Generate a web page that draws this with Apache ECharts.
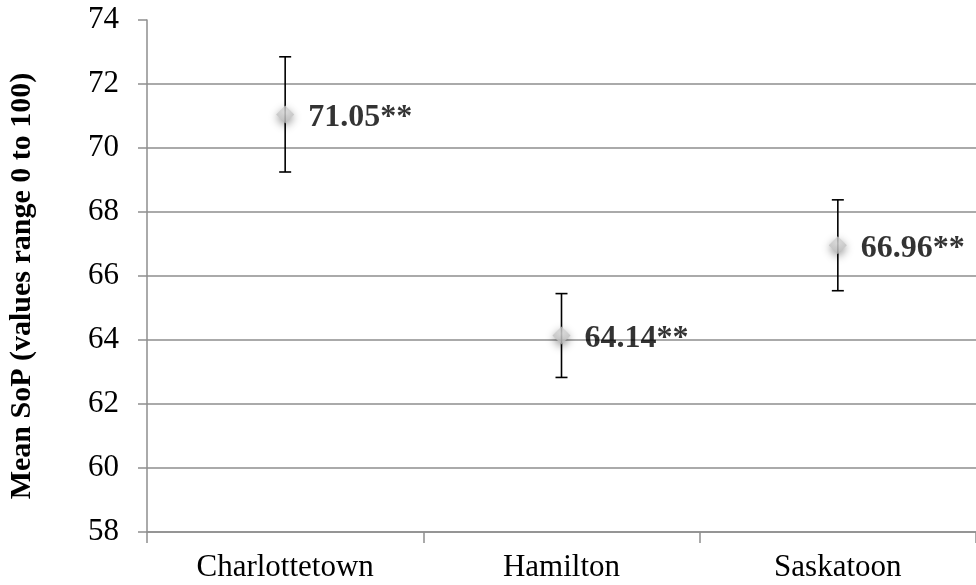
<!DOCTYPE html>
<html>
<head>
<meta charset="utf-8">
<style>
  html, body { margin: 0; padding: 0; background: #fff; }
  #chart { width: 976px; height: 585px; }
</style>
<script src="https://cdn.jsdelivr.net/npm/echarts@6/dist/echarts.min.js"></script>
</head>
<body>
<div id="chart"></div>
<script>
// City means of SoP with their confidence bounds
var categories = ['Charlottetown', 'Hamilton', 'Saskatoon'];
var means = [71.05, 64.14, 66.96];
var lowerBounds = [69.25, 62.83, 65.54];
var upperBounds = [72.85, 65.45, 68.38];
var significance = ['**', '**', '**'];
var yTicks = [58, 60, 62, 64, 66, 68, 70, 72, 74];

var serif = '"Liberation Serif", "Times New Roman", Times, serif';
var gridGray = '#8e8e8e';

var errorData = categories.map(function (c, i) {
  return [i, lowerBounds[i], upperBounds[i]];
});

var chart = echarts.init(document.getElementById('chart'));
chart.setOption({
  animation: false,
  backgroundColor: '#ffffff',
  grid: { left: 147, top: 20, right: -11, bottom: 53 },
  xAxis: {
    type: 'category',
    data: categories,
    boundaryGap: true,
    axisLine: { lineStyle: { color: gridGray, width: 1.5 } },
    axisTick: { show: true, length: 11, lineStyle: { color: gridGray, width: 1.5 } },
    axisLabel: { color: '#000', fontFamily: serif, fontSize: 31, margin: 20 }
  },
  yAxis: {
    type: 'value',
    min: yTicks[0],
    max: yTicks[yTicks.length - 1],
    interval: 2,
    axisLine: { show: true, lineStyle: { color: gridGray, width: 1.5 } },
    axisTick: { show: true, length: 9, lineStyle: { color: gridGray, width: 1.5 } },
    axisLabel: { color: '#000', fontFamily: serif, fontSize: 31, margin: 28 },
    splitLine: {
      show: true,
      lineStyle: {
        width: 1.5,
        color: [gridGray, gridGray, gridGray, gridGray, gridGray, gridGray, gridGray, gridGray, 'rgba(0,0,0,0)']
      }
    }
  },
  graphic: [{
    type: 'text',
    x: 22,
    y: 286,
    rotation: Math.PI / 2,
    style: {
      text: 'Mean SoP (values range 0 to 100)',
      fontFamily: serif,
      fontWeight: 'bold',
      fontSize: 30,
      fill: '#000',
      align: 'center',
      verticalAlign: 'middle'
    }
  }],
  series: [
    {
      type: 'custom',
      name: 'range',
      data: errorData,
      z: 3,
      renderItem: function (params, api) {
        var x = api.value(0);
        var lo = api.coord([x, api.value(1)]);
        var hi = api.coord([x, api.value(2)]);
        var cap = 6;
        var st = { stroke: '#000', lineWidth: 1.6 };
        return {
          type: 'group',
          children: [
            { type: 'line', shape: { x1: lo[0], y1: lo[1], x2: hi[0], y2: hi[1] }, style: st },
            { type: 'line', shape: { x1: hi[0] - cap, y1: hi[1], x2: hi[0] + cap, y2: hi[1] }, style: st },
            { type: 'line', shape: { x1: lo[0] - cap, y1: lo[1], x2: lo[0] + cap, y2: lo[1] }, style: st }
          ]
        };
      }
    },
    {
      type: 'scatter',
      name: 'Mean SoP',
      data: means,
      z: 5,
      symbol: 'diamond',
      symbolSize: 18,
      itemStyle: {
        color: {
          type: 'radial', x: 0.5, y: 0.4, r: 0.7,
          colorStops: [
            { offset: 0, color: '#dedede' },
            { offset: 0.6, color: '#c6c6c6' },
            { offset: 1, color: '#a8a8a8' }
          ]
        },
        shadowBlur: 8,
        shadowColor: 'rgba(0,0,0,0.5)',
        shadowOffsetY: 3
      },
      label: {
        show: true,
        position: 'right',
        distance: 14,
        offset: [0, 3],
        color: '#000',
        fontFamily: serif,
        fontWeight: 'bold',
        fontSize: 32,
        formatter: function (p) {
          return p.value.toFixed(2) + significance[p.dataIndex];
        }
      }
    }
  ]
});
</script>
</body>
</html>
